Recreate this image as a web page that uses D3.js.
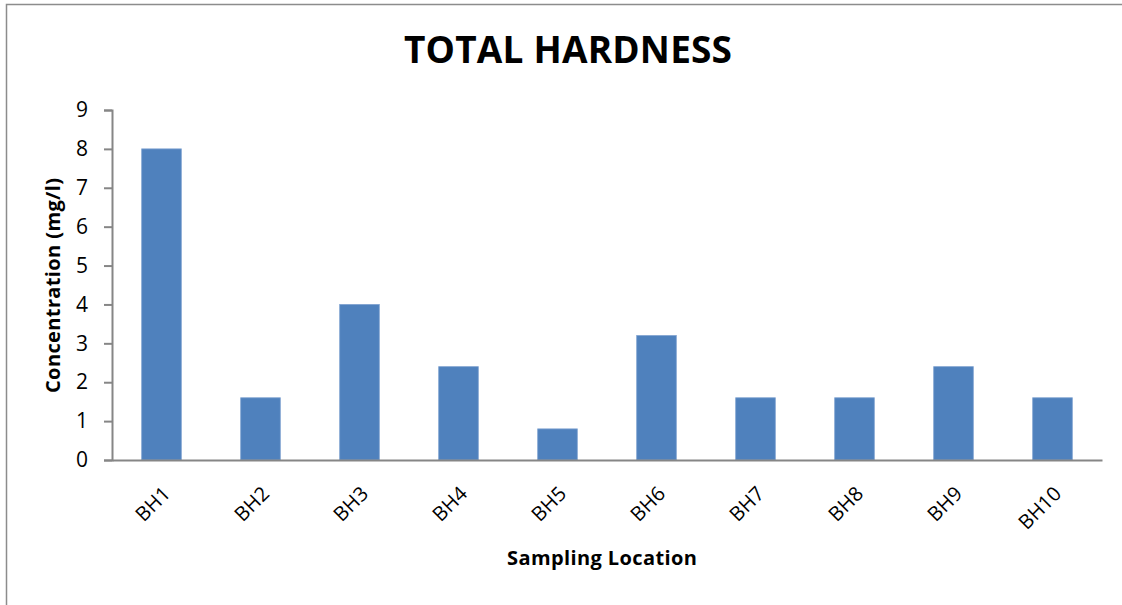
<!DOCTYPE html>
<html>
<head>
<meta charset="utf-8">
<script src="https://cdn.jsdelivr.net/npm/d3@7"></script>
<style>
  html, body { margin: 0; padding: 0; background: #fff; }
  svg { display: block; }
  text { font-family: "Open Sans", "Liberation Sans", sans-serif; }
</style>
</head>
<body>
<svg id="chart" width="1122" height="605"></svg>
<script>
// Total hardness per borehole sampling location
const locations = ["BH1", "BH2", "BH3", "BH4", "BH5", "BH6", "BH7", "BH8", "BH9", "BH10"];
const hardness = [8.0, 1.6, 4.0, 2.4, 0.8, 3.2, 1.6, 1.6, 2.4, 1.6];
const yTicks = [0, 1, 2, 3, 4, 5, 6, 7, 8, 9];

const svg = d3.select("#chart");
const W = 1122, H = 605;
const plot = { left: 112, right: 1102, top: 110, bottom: 460 };

// outer chart frame
svg.append("rect")
  .attr("x", 6.5).attr("y", 4.5)
  .attr("width", W + 20).attr("height", H + 20)
  .attr("fill", "#fff")
  .attr("stroke", "#8c8c8c")
  .attr("stroke-width", 1.5);

const x = d3.scaleBand()
  .domain(locations)
  .range([plot.left, plot.right])
  .paddingInner(0.6)
  .paddingOuter(0.3);

const y = d3.scaleLinear()
  .domain([0, 9])
  .range([plot.bottom, plot.top]);

// bars
svg.append("g")
  .selectAll("rect")
  .data(locations)
  .join("rect")
  .attr("x", d => x(d))
  .attr("y", (d, i) => y(hardness[i]))
  .attr("width", x.bandwidth())
  .attr("height", (d, i) => y(0) - y(hardness[i]))
  .attr("fill", "#4f81bd")
  .attr("stroke", "#7fa2d0")
  .attr("stroke-width", 0.8);

// y axis
const yAxis = svg.append("g")
  .attr("transform", `translate(${plot.left},0)`)
  .call(d3.axisLeft(y).tickValues(yTicks).tickSize(8).tickPadding(16).tickFormat(d3.format("d")));
yAxis.select(".domain").attr("stroke", "#868686").attr("stroke-width", 2);
yAxis.selectAll(".tick line").attr("stroke", "#868686").attr("stroke-width", 2);
yAxis.selectAll(".tick text")
  .attr("font-size", 21)
  .attr("fill", "#000")
  .style("font-family", "'Open Sans', sans-serif");

// x axis
const xAxis = svg.append("g")
  .attr("transform", `translate(0,${plot.bottom})`)
  .call(d3.axisBottom(x).tickSize(0).tickPadding(0));
xAxis.select(".domain").attr("stroke", "#868686").attr("stroke-width", 2);
xAxis.selectAll(".tick text")
  .attr("font-size", 20)
  .attr("fill", "#000")
  .attr("text-anchor", "end")
  .attr("dy", 0)
  .attr("transform", "translate(10,35) rotate(-45)")
  .style("font-family", "'Open Sans', sans-serif");

// title
svg.append("text")
  .attr("x", 568).attr("y", 63)
  .attr("text-anchor", "middle")
  .attr("font-size", 37)
  .attr("font-weight", "bold")
  .attr("fill", "#000")
  .attr("textLength", 328)
  .attr("lengthAdjust", "spacing")
  .text("TOTAL HARDNESS");

// axis titles
svg.append("text")
  .attr("x", 602).attr("y", 565)
  .attr("text-anchor", "middle")
  .attr("font-size", 20)
  .attr("font-weight", "bold")
  .attr("fill", "#000")
  .attr("textLength", 190)
  .attr("lengthAdjust", "spacing")
  .text("Sampling Location");

svg.append("text")
  .attr("transform", "translate(60,285.5) rotate(-90)")
  .attr("text-anchor", "middle")
  .attr("font-size", 20)
  .attr("font-weight", "bold")
  .attr("fill", "#000")
  .attr("textLength", 215)
  .attr("lengthAdjust", "spacing")
  .text("Concentration (mg/l)");
</script>
</body>
</html>
